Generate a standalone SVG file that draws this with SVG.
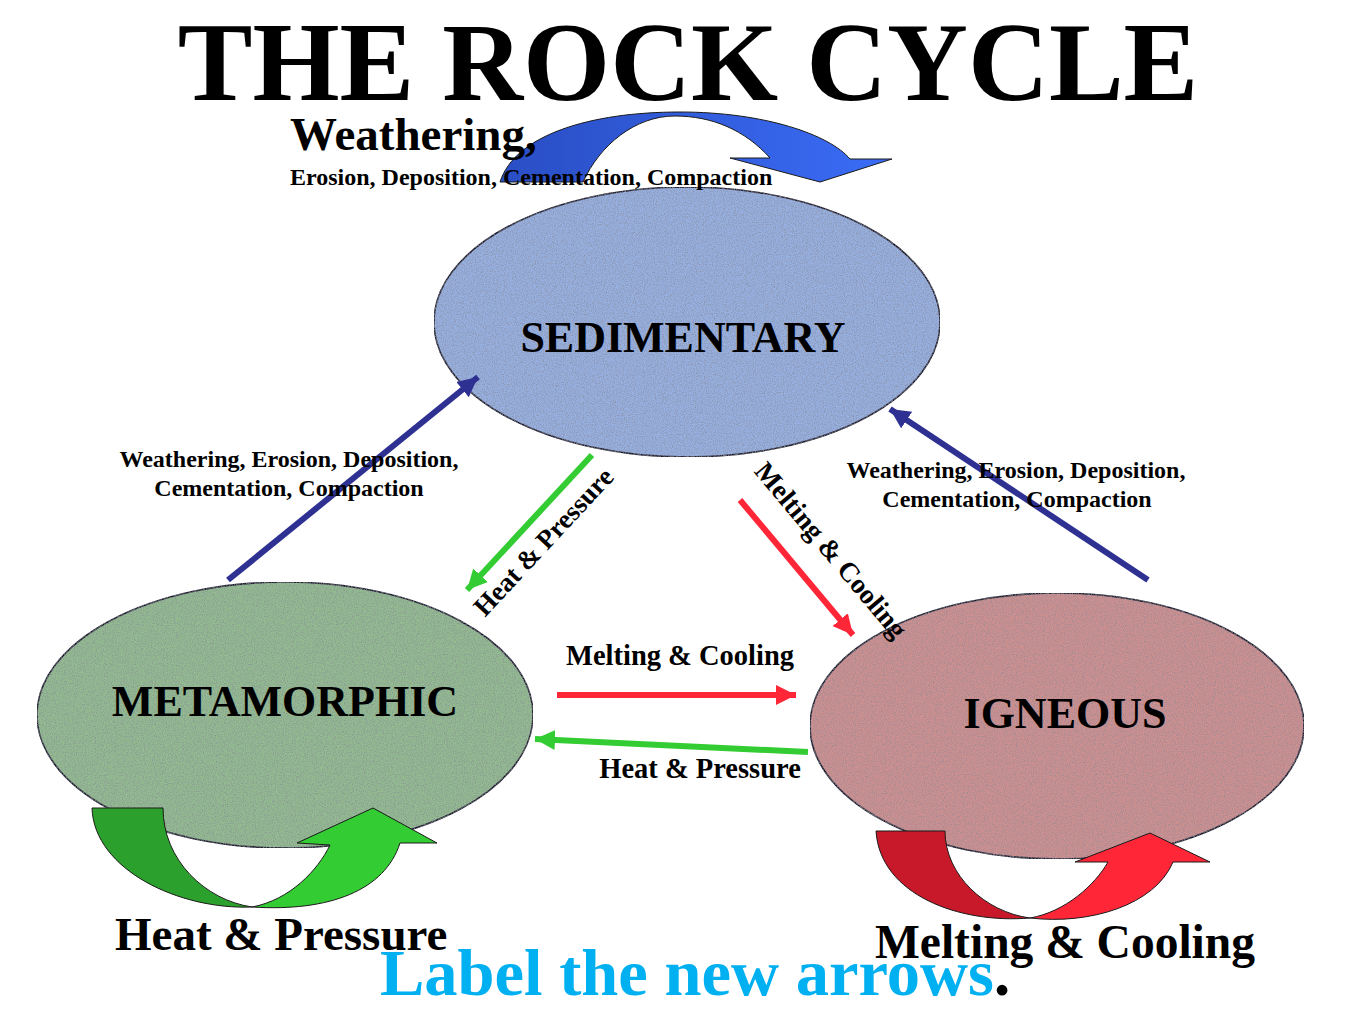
<svg xmlns="http://www.w3.org/2000/svg" width="1365" height="1024" viewBox="0 0 1365 1024">
<defs>
<style>
text{font-family:"Liberation Serif","Times New Roman",serif;font-weight:bold;fill:#000}
.node{stroke:#1a1a2e;stroke-width:1.6}
.conn{fill:none;stroke-width:6}
.curve{stroke:#1a1a1a;stroke-width:1}
</style>
<filter id="grain" x="0" y="0" width="100%" height="100%">
<feTurbulence type="fractalNoise" baseFrequency="0.9" numOctaves="2" seed="4" result="n"/>
<feColorMatrix in="n" type="matrix" values="0 0 0 0 0.25  0 0 0 0 0.25  0 0 0 0 0.3  1.8 0 0 0 -0.7" result="a"/>
<feComposite in="a" in2="SourceGraphic" operator="in" result="dots"/>
<feMerge><feMergeNode in="SourceGraphic"/><feMergeNode in="dots"/></feMerge>
</filter>
<linearGradient id="blueGrad" x1="500" y1="0" x2="890" y2="0" gradientUnits="userSpaceOnUse">
<stop offset="0" stop-color="#2A4EC4"/><stop offset="1" stop-color="#3A6CF6"/>
</linearGradient>
<marker id="mNavy" markerUnits="userSpaceOnUse" markerWidth="22" markerHeight="22" refX="20" refY="10" orient="auto"><path d="M0,0 L20,10 L0,20 Z" fill="#2E3192"/></marker>
<marker id="mGreen" markerUnits="userSpaceOnUse" markerWidth="22" markerHeight="22" refX="20" refY="10" orient="auto"><path d="M0,0 L20,10 L0,20 Z" fill="#33CC33"/></marker>
<marker id="mRed" markerUnits="userSpaceOnUse" markerWidth="22" markerHeight="22" refX="20" refY="10" orient="auto"><path d="M0,0 L20,10 L0,20 Z" fill="#FF2638"/></marker>
</defs>
<rect width="1365" height="1024" fill="#fff"/>

<text x="688" y="100" font-size="112" text-anchor="middle">THE ROCK CYCLE</text>

<g id="sedimentary">
<ellipse class="node" cx="687" cy="322" rx="253" ry="135" fill="#97B1E2" filter="url(#grain)"/>
<text x="683" y="352" font-size="44" text-anchor="middle">SEDIMENTARY</text>
</g>
<g id="metamorphic">
<ellipse class="node" cx="285" cy="715" rx="248" ry="133" fill="#93BC90" filter="url(#grain)"/>
</g>
<g id="igneous">
<ellipse class="node" cx="1057" cy="726" rx="247" ry="133" fill="#CF9090" filter="url(#grain)"/>
</g>

<g id="cycle-arrows">
<path class="curve" fill="url(#blueGrad)" d="M500,182 C515,135 590,112 680,112 C765,112 830,135 850,159 L892,159 L820,182 L730,158 L770,158 C745,130 712,116 675,116 C635,116 600,145 583,182 Z"/>
<path class="curve" fill="#2CA02C" d="M92,808 L163,808 C163,860 205,900 252,907 C180,910 94,870 92,808 Z"/>
<path class="curve" fill="#33CC33" d="M252,907 C290,900 318,870 330,845 L297,843 L373,808 L437,843 L400,843 C385,890 330,912 252,907 Z"/>
<path class="curve" fill="#C8192B" d="M876,831 L945,831 C945,875 985,912 1030,918 C960,924 880,895 876,831 Z"/>
<path class="curve" fill="#FF2638" d="M1030,918 C1065,912 1095,885 1108,862 L1075,862 L1150,833 L1210,862 L1173,862 C1155,905 1090,925 1030,918 Z"/>
</g>

<g id="connectors">
<line class="conn" x1="228" y1="580" x2="478" y2="377" stroke="#2E3192" marker-end="url(#mNavy)"/>
<line class="conn" x1="1148" y1="580" x2="890" y2="409" stroke="#2E3192" marker-end="url(#mNavy)"/>
<line class="conn" x1="592" y1="455" x2="467" y2="590" stroke="#33CC33" marker-end="url(#mGreen)"/>
<line class="conn" x1="740" y1="500" x2="853" y2="635" stroke="#FF2638" marker-end="url(#mRed)"/>
<line class="conn" x1="557" y1="695" x2="796" y2="695" stroke="#FF2638" marker-end="url(#mRed)"/>
<line class="conn" x1="808" y1="752" x2="535" y2="739" stroke="#33CC33" marker-end="url(#mGreen)"/>
</g>

<g id="labels">
<text x="290" y="150" font-size="47">Weathering,</text>
<text x="290" y="185" font-size="24">Erosion, Deposition, Cementation, Compaction</text>
<text x="289" y="467" font-size="24" text-anchor="middle">Weathering, Erosion, Deposition,</text>
<text x="289" y="496" font-size="24" text-anchor="middle">Cementation, Compaction</text>
<text x="1016" y="478" font-size="24" text-anchor="middle">Weathering, Erosion, Deposition,</text>
<text x="1017" y="507" font-size="24" text-anchor="middle">Cementation, Compaction</text>
<text font-size="27" text-anchor="middle" transform="translate(550,548) rotate(-47)">Heat &amp; Pressure</text>
<text font-size="27.5" text-anchor="middle" transform="translate(824,556) rotate(50)">Melting &amp; Cooling</text>
<text x="680" y="665" font-size="28.5" text-anchor="middle">Melting &amp; Cooling</text>
<text x="700" y="778" font-size="28.5" text-anchor="middle">Heat &amp; Pressure</text>
<text x="285" y="716" font-size="44" text-anchor="middle">METAMORPHIC</text>
<text x="1065" y="728" font-size="44" text-anchor="middle">IGNEOUS</text>
<text x="115" y="950" font-size="47">Heat &amp; Pressure</text>
<text x="875" y="958" font-size="47.5">Melting &amp; Cooling</text>
<text x="380" y="995" font-size="66.5"><tspan fill="#00B0F0">Label the new arrows</tspan>.</text>
</g>
</svg>
